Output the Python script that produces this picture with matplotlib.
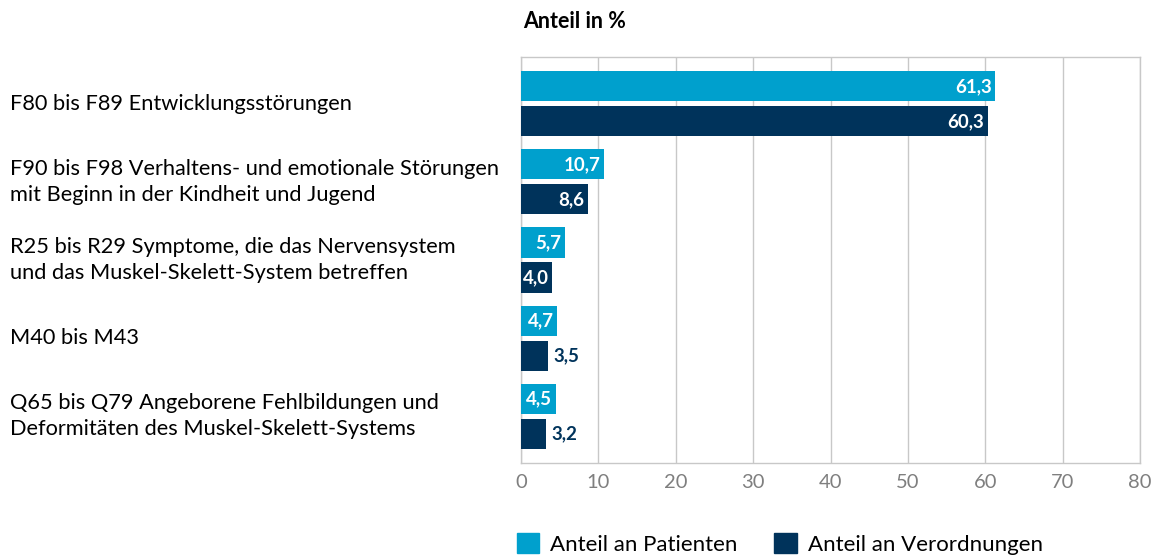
import numpy as np
import matplotlib.pyplot as plt
import matplotlib.transforms as mtransforms
from matplotlib.patches import Patch

plt.rcParams['font.family'] = ['Lato', 'DejaVu Sans']

# Daten
kategorien = [
    "F80 bis F89 Entwicklungsstörungen",
    "F90 bis F98 Verhaltens- und emotionale Störungen\nmit Beginn in der Kindheit und Jugend",
    "R25 bis R29 Symptome, die das Nervensystem\nund das Muskel-Skelett-System betreffen",
    "M40 bis M43",
    "Q65 bis Q79 Angeborene Fehlbildungen und\nDeformitäten des Muskel-Skelett-Systems",
]
patienten = [61.3, 10.7, 5.7, 4.7, 4.5]
verordnungen = [60.3, 8.6, 4.0, 3.5, 3.2]
serien = ["Anteil an Patienten", "Anteil an Verordnungen"]

hell = '#00A0CD'
dunkel = '#00335B'
grau = '#C8C8C8'

fig = plt.figure(figsize=(11.54, 5.55), dpi=100)
ax = fig.add_axes([0.4515, 0.1658, 0.9879 - 0.4515, 0.8973 - 0.1658])

y = np.arange(len(kategorien))
h = 0.385
off = 0.224
b1 = ax.barh(y - off, patienten, height=h, color=hell, zorder=3)
b2 = ax.barh(y + off, verordnungen, height=h, color=dunkel, zorder=3)

def fmt(v):
    return f"{v:.1f}".replace('.', ',')

# Werte beschriften: innen weiss, sonst aussen dunkel
for bars, werte in [(b1, patienten), (b2, verordnungen)]:
    for bar, v in zip(bars, werte):
        yc = bar.get_y() + bar.get_height() / 2
        if v >= 4.0:
            ax.annotate(fmt(v), (v, yc), xytext=(-2.5, 0), textcoords='offset points',
                        ha='right', va='center', color='white', fontsize=13.5,
                        fontweight='bold', zorder=4)
        else:
            ax.annotate(fmt(v), (v, yc), xytext=(4, 0), textcoords='offset points',
                        ha='left', va='center', color=dunkel, fontsize=13.5,
                        fontweight='bold', zorder=4)

ax.set_xlim(0, 80)
ax.set_ylim(4.6, -0.6)
ax.set_xticks(range(0, 81, 10))
ax.set_yticks([])
ax.tick_params(axis='x', length=0, pad=8, labelsize=14.5, labelcolor='#7F7F7F')
ax.grid(axis='x', color=grau, linewidth=1.0, zorder=0)
for s in ax.spines.values():
    s.set_color(grau)
    s.set_linewidth(1.0)

# Kategorien links
trans = mtransforms.blended_transform_factory(fig.transFigure, ax.transData)
for yi, k in zip(y, kategorien):
    ax.text(10 / 1154, yi, k, transform=trans, ha='left', va='center',
            fontsize=15.7, linespacing=1.4, color='black')

fig.text(523 / 1154, 1 - 22 / 555, "Anteil in %", ha='left', va='center',
         fontsize=15.5, fontweight='bold')

handles = [Patch(color=hell), Patch(color=dunkel)]
fig.legend(handles, serien, loc='center left', bbox_to_anchor=(517 / 1154, 1 - 544 / 555),
           ncol=2, frameon=False, fontsize=16, handlelength=1.0, handleheight=1.0,
           handletextpad=0.5, columnspacing=1.65, borderpad=0, borderaxespad=0)

fig.savefig("out.png", dpi=100)
